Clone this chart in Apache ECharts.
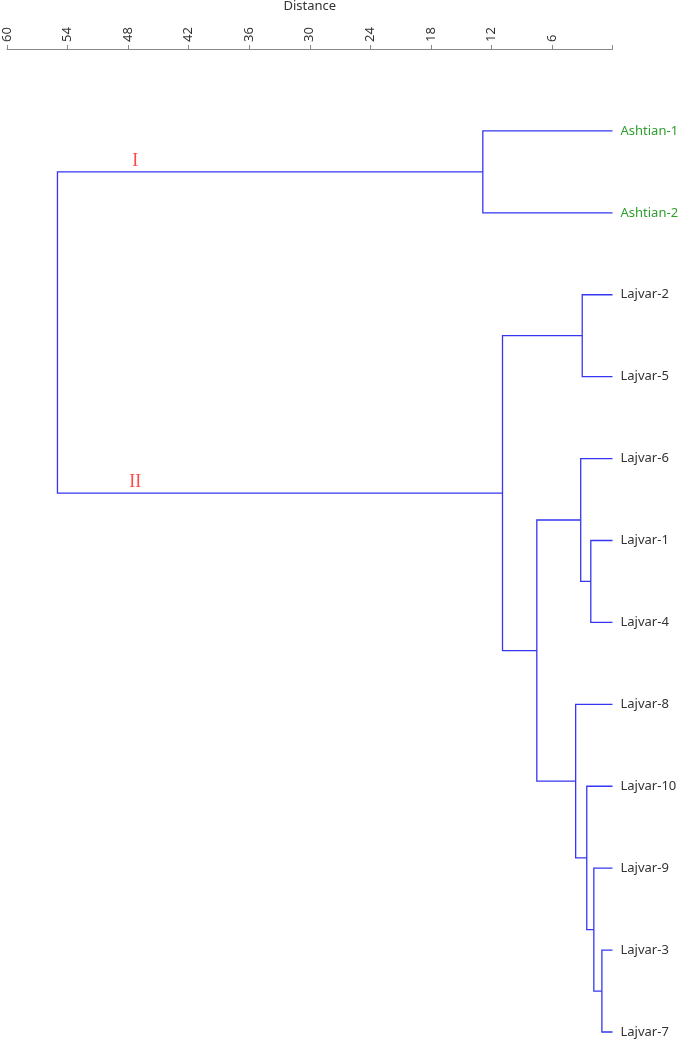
<!DOCTYPE html>
<html>
<head>
<meta charset="utf-8">
<script src="https://cdn.jsdelivr.net/npm/echarts@6/dist/echarts.min.js"></script>
<style>
  html, body { margin: 0; padding: 0; background: #fff; }
  #chart { width: 685px; height: 1047px; }
</style>
</head>
<body>
<div id="chart"></div>
<script>
// 叶子（样本）
const leaves = ['Ashtian-1', 'Ashtian-2', 'Lajvar-2', 'Lajvar-5', 'Lajvar-6', 'Lajvar-1',
    'Lajvar-4', 'Lajvar-8', 'Lajvar-10', 'Lajvar-9', 'Lajvar-3', 'Lajvar-7'];
const leafGroup = ['Ashtian', 'Ashtian', 'Lajvar', 'Lajvar', 'Lajvar', 'Lajvar',
    'Lajvar', 'Lajvar', 'Lajvar', 'Lajvar', 'Lajvar', 'Lajvar'];

// 合并步骤：[节点a, 节点b, 距离]，新节点编号从 12 开始
const merges = [
    [10, 11, 1.05],
    [9, 12, 1.85],
    [8, 13, 2.55],
    [7, 14, 3.65],
    [5, 6, 2.15],
    [4, 16, 3.15],
    [17, 15, 7.5],
    [2, 3, 3.0],
    [19, 18, 10.9],
    [0, 1, 12.85],
    [21, 20, 55.0]
];

// 分组标记
const clusterNames = ['I', 'II'];
const clusterNodes = [21, 20];
const clusterLabelDist = 47.3;

// 横轴刻度
const distTicks = [60, 54, 48, 42, 36, 30, 24, 18, 12, 6];

// 计算节点位置
let pos = leaves.map((v, i) => i);
let height = leaves.map(() => 0);
let links = [];
merges.forEach(m => {
    let a = m[0], b = m[1];
    links.push([m[2], pos[a], pos[b], height[a], height[b]]);
    pos.push((pos[a] + pos[b]) / 2);
    height.push(m[2]);
});

const groupColor = { Ashtian: '#2e9e2e', Lajvar: '#333333' };

let myChart = echarts.init(document.getElementById('chart'));
myChart.setOption({
    animation: false,
    grid: {
        left: 7,
        right: 72.5,
        top: 49,
        bottom: 15,
        outerBoundsMode: 'none'
    },
    xAxis: {
        type: 'value',
        position: 'top',
        inverse: true,
        min: 0,
        max: 60,
        interval: 6,
        name: 'Distance',
        nameLocation: 'middle',
        nameGap: 36,
        nameTextStyle: { color: '#333', fontSize: 13, fontFamily: 'Noto Sans' },
        axisLine: { onZero: false, lineStyle: { color: '#888', width: 1 } },
        axisTick: { length: 4, lineStyle: { color: '#888' } },
        splitLine: { show: false },
        axisLabel: {
            rotate: -90,
            margin: 7,
            color: '#333',
            fontSize: 13,
            fontFamily: 'Noto Sans',
            formatter: v => distTicks.indexOf(v) >= 0 ? String(v) : ''
        }
    },
    yAxis: {
        type: 'value',
        position: 'right',
        inverse: true,
        min: -1,
        max: 11,
        interval: 1,
        axisLine: { show: false, onZero: false },
        axisTick: { show: false },
        splitLine: { show: false },
        axisLabel: {
            margin: 8,
            fontSize: 13,
            fontFamily: 'Noto Sans',
            formatter: v => leaves[v] || '',
            color: v => {
                let g = leafGroup[Number(v)];
                return g ? groupColor[g] : '#333';
            }
        }
    },
    series: [
        {
            type: 'custom',
            clip: false,
            data: links,
            encode: { x: 0, y: 1 },
            renderItem: (params, api) => {
                let h = api.value(0);
                let p1 = api.coord([api.value(3), api.value(1)]);
                let c1 = api.coord([h, api.value(1)]);
                let c2 = api.coord([h, api.value(2)]);
                let p2 = api.coord([api.value(4), api.value(2)]);
                return {
                    type: 'polyline',
                    shape: { points: [p1, c1, c2, p2] },
                    style: { stroke: '#3636f2', lineWidth: 1.3, fill: null }
                };
            }
        },
        {
            type: 'scatter',
            symbolSize: 0,
            silent: true,
            data: clusterNames.map((n, i) => [clusterLabelDist, pos[clusterNodes[i]], n]),
            label: {
                show: true,
                position: 'top',
                distance: 2,
                formatter: p => p.value[2],
                color: '#ff1a1a',
                fontSize: 18,
                fontFamily: 'Liberation Serif'
            }
        }
    ]
});
</script>
</body>
</html>
